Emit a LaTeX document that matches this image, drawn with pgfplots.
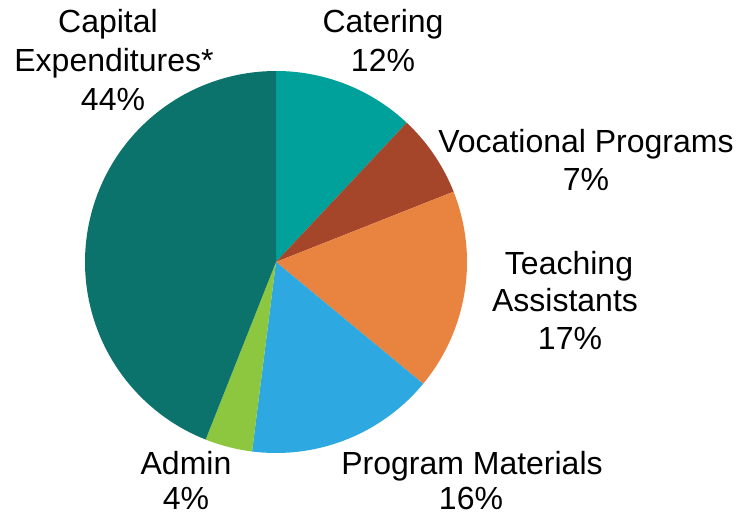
\documentclass[border=0pt]{standalone}
\usepackage{pgfplots}
\pgfplotsset{compat=1.18}
\usepackage{fontspec}
\setmainfont{Liberation Sans}
\definecolor{cCater}{HTML}{00A19B}
\definecolor{cVoc}{HTML}{A5462A}
\definecolor{cTeach}{HTML}{E8843F}
\definecolor{cMat}{HTML}{2DA8E0}
\definecolor{cAdmin}{HTML}{8DC63F}
\definecolor{cCap}{HTML}{0C736C}
% slice: cumulative start %, cumulative end %, colour (clockwise from top)
\newcommand{\slice}[3]{%
  \addplot[fill=#3, draw=none, domain={90-3.6*(#2)}:{90-3.6*(#1)}, samples=90, variable=\t]
    ({276+191*cos(\t)},{-262+191*sin(\t)}) -- (axis cs:276,-262) -- cycle;}
\newcommand{\lab}[3]{\node[anchor=base, font=\fontsize{32}{38}\selectfont, inner sep=0pt] at (axis cs:#1,-#2) {#3};}
\begin{document}
\begin{tikzpicture}
\useasboundingbox (0,0) rectangle (740pt,516pt);
\begin{axis}[at={(0,0)}, anchor=south west, scale only axis,
  width=740pt, height=516pt, xmin=0, xmax=740, ymin=-516, ymax=0,
  hide axis, clip=false]
% percentages: Catering 12, Vocational 7, Teaching 17, Materials 16, Admin 4, Capital 44
\slice{0}{12}{cCater}
\slice{12}{19}{cVoc}
\slice{19}{36}{cTeach}
\slice{36}{52}{cMat}
\slice{52}{56}{cAdmin}
\slice{56}{100}{cCap}
\lab{108}{33}{Capital}
\lab{114}{72}{Expenditures*}
\lab{113}{111}{44\%}
\lab{383}{33}{Catering}
\lab{383}{72}{12\%}
\lab{586}{153}{Vocational Programs}
\lab{586}{191}{7\%}
\lab{569}{275}{Teaching}
\lab{565}{312}{Assistants}
\lab{570}{350}{17\%}
\lab{186}{475}{Admin}
\lab{186}{510}{4\%}
\lab{472}{475}{Program Materials}
\lab{471}{510}{16\%}
\end{axis}
\end{tikzpicture}
\end{document}
